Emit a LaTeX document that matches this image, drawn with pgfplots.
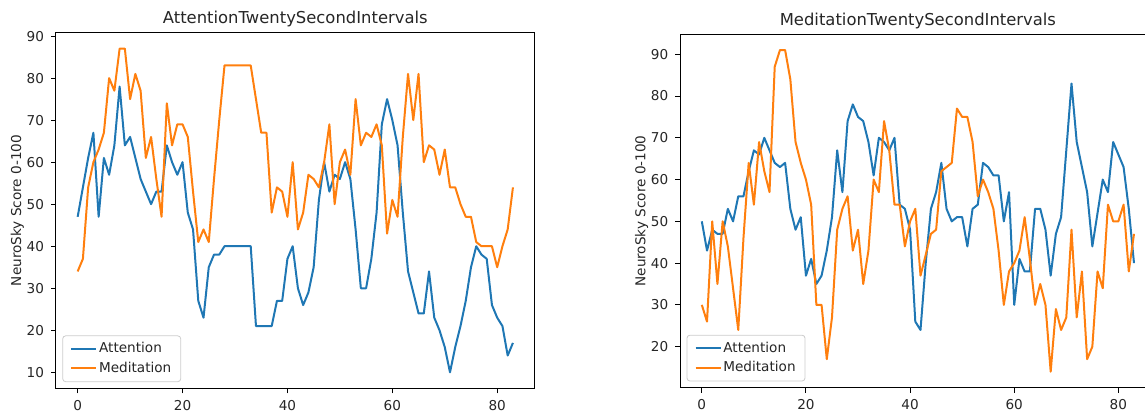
\documentclass[border=0pt]{standalone}
\usepackage{fontspec}
\setmainfont{DejaVu Sans}
\usepackage{pgfplots}
\usepackage{pgfplotstable}
\pgfplotsset{compat=1.18}
\definecolor{mplblue}{HTML}{1F77B4}
\definecolor{mplorange}{HTML}{FF7F0E}

% left panel: AttentionTwentySecondIntervals
\pgfplotstableread{
x att med
0 47 34
1 54 37
2 61 54
3 67 60
4 47 63
5 61 67
6 57 80
7 64 77
8 78 87
9 64 87
10 66 75
11 61 81
12 56 77
13 53 61
14 50 66
15 53 56
16 53 47
17 64 74
18 60 64
19 57 69
20 60 69
21 48 66
22 44 53
23 27 41
24 23 44
25 35 41
26 38 56
27 38 70
28 40 83
29 40 83
30 40 83
31 40 83
32 40 83
33 40 83
34 21 75
35 21 67
36 21 67
37 21 48
38 27 54
39 27 53
40 37 47
41 40 60
42 30 44
43 26 48
44 29 57
45 35 56
46 51 54
47 60 60
48 53 69
49 57 50
50 56 60
51 60 63
52 56 57
53 44 75
54 30 64
55 30 67
56 37 66
57 48 69
58 69 64
59 75 43
60 70 51
61 64 47
62 48 66
63 34 81
64 29 70
65 24 81
66 24 60
67 34 64
68 23 63
69 20 57
70 16 63
71 10 54
72 16 54
73 21 50
74 27 47
75 35 47
76 40 41
77 38 40
78 37 40
79 26 40
80 23 35
81 21 40
82 14 44
83 17 54
}\leftdata

% right panel: MeditationTwentySecondIntervals
\pgfplotstableread{
x att med
0 50 30
1 43 26
2 48 50
3 47 35
4 47 50
5 53 44
6 50 34
7 56 24
8 56 46
9 62 64
10 67 54
11 66 69
12 70 62
13 67 57
14 64 87
15 63 91
16 64 91
17 53 84
18 48 69
19 51 64
20 37 60
21 41 54
22 35 30
23 37 30
24 43 17
25 51 27
26 67 48
27 57 53
28 74 56
29 78 43
30 75 48
31 74 35
32 69 43
33 61 60
34 70 57
35 69 74
36 67 67
37 70 54
38 54 54
39 53 44
40 48 50
41 26 53
42 24 37
43 40 42
44 53 47
45 57 48
46 64 62
47 53 63
48 50 64
49 51 77
50 51 75
51 44 75
52 53 69
53 54 56
54 64 60
55 63 57
56 61 53
57 61 43
58 50 30
59 57 38
60 30 40
61 41 43
62 38 51
63 38 41
64 53 30
65 53 35
66 48 30
67 37 14
68 47 29
69 51 24
70 67 27
71 83 48
72 69 27
73 63 38
74 57 17
75 44 20
76 52 38
77 60 34
78 57 54
79 69 50
80 66 50
81 63 54
82 53 38
83 40 47
}\rightdata

\tikzset{paneltitle/.style={anchor=base, yshift=4.3pt,
    font=\fontsize{8.2}{9.6}\selectfont, text=black!85}}

\pgfplotsset{
  eeg/.style={
    scale only axis,
    clip=false,
    xmin=-4.15, xmax=87.15,
    xtick={0,20,40,60,80},
    tick pos=left,
    tick align=outside,
    major tick length=2.45pt,
    axis line style={line width=0.5pt},
    every tick/.style={black, line width=0.5pt},
    tick label style={font=\fontsize{6.8}{8}\selectfont, color=black!85},
    /pgf/number format/assume math mode=true,
    label style={font=\fontsize{6.8}{8}\selectfont, color=black!85},
    ylabel shift=-5.5pt,
    ylabel={NeuroSky Score 0-100},
    legend style={at={(axis description cs:0.0134,0.018)}, anchor=south west,
      draw=black!20, rounded corners=1.5pt, fill=white,
      font=\fontsize{6.8}{8}\selectfont, text=black!85,
      inner xsep=3.8pt, inner ysep=2.4pt, row sep=1.2pt,
      nodes={inner sep=0.9pt}},
    legend cell align=left,
    legend image code/.code={\draw[##1, line width=1pt, sharp corners] (0pt,0pt) -- (12.5pt,0pt);},
    every axis plot/.append style={line width=1pt, line join=round},
  },
}

\begin{document}
\begin{tikzpicture}
\useasboundingbox (0pt,0pt) rectangle (572.5pt,-206pt);

\begin{axis}[eeg,
  at={(27.95pt,-194.25pt)}, anchor=south west,
  width=239.4pt, height=178pt,
  ymin=6.15, ymax=90.85,
  ytick={10,20,...,90}]
\addplot[mplblue, no markers] table[x=x, y=att] {\leftdata};
\addlegendentry{Attention}
\addplot[mplorange, no markers] table[x=x, y=med] {\leftdata};
\addlegendentry{Meditation}
\node[paneltitle] at (rel axis cs:0.5,1) {AttentionTwentySecondIntervals};
\end{axis}

\begin{axis}[eeg,
  at={(340.1pt,-193.9pt)}, anchor=south west,
  width=237.7pt, height=176.9pt,
  ymin=10.15, ymax=94.85,
  ytick={20,30,...,90}]
\addplot[mplblue, no markers] table[x=x, y=att] {\rightdata};
\addlegendentry{Attention}
\addplot[mplorange, no markers] table[x=x, y=med] {\rightdata};
\addlegendentry{Meditation}
\node[paneltitle] at (rel axis cs:0.5,1) {MeditationTwentySecondIntervals};
\end{axis}
\end{tikzpicture}
\end{document}
